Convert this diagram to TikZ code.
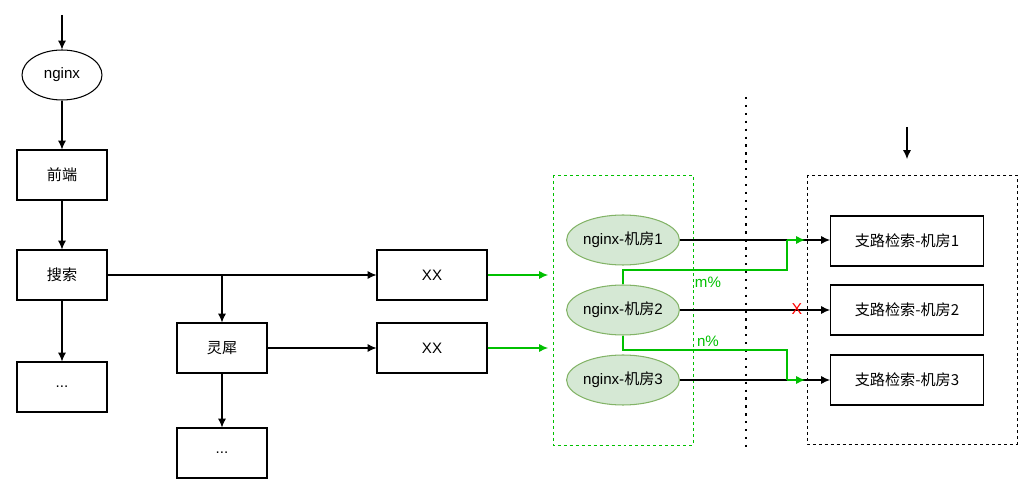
\documentclass[tikz,border=0pt]{standalone}
\usepackage{fontspec}
\setmainfont{Liberation Sans}
\newfontfamily\cjk{Noto Sans CJK SC}
\usetikzlibrary{arrows.meta,shapes.geometric}

\definecolor{okgreen}{HTML}{00C000}
\definecolor{roomfill}{HTML}{D5E8D4}
\definecolor{roomline}{HTML}{82B366}

\tikzset{
  box/.style={draw,line width=0.6pt,minimum width=1.8cm,minimum height=1cm,inner sep=0pt,font=\fontsize{8.6}{10}\selectfont},
  wbox/.style={box,minimum width=2.2cm},
  branch/.style={box,minimum width=3.06cm},
  oval/.style={draw,ellipse,line width=0.6pt,minimum width=1.6cm,minimum height=1cm,inner sep=0pt,font=\fontsize{8.6}{10}\selectfont},
  room/.style={oval,fill=roomfill,draw=roomline,minimum width=2.2cm},
  link/.style={line width=0.6pt,-{Latex[length=5pt,width=4.5pt]}},
  glink/.style={link,okgreen},
  gline/.style={line width=0.6pt,okgreen},
  frame/.style={line width=0.5pt,dash pattern=on 1.7pt off 1.7pt},
}

\begin{document}
\begin{tikzpicture}[x=0.02cm,y=-0.02cm]
\useasboundingbox (0,0) rectangle (1031,496);
% left column
\coordinate (in) at (62,15);
\node[oval] (nginx) at (62,75) {nginx};
\node[box] (fe) at (62,175) {\cjk 前端};
\node[box] (search) at (62,275) {\cjk 搜索};
\node[box] (more1) at (62,387) {...};
\node[box] (lingxi) at (222,348) {\cjk 灵犀};
\node[box] (more2) at (222,453) {...};
\node[wbox] (xx1) at (432,275) {XX};
\node[wbox] (xx2) at (432,348) {XX};
\draw[link] (in) -- (nginx);
\draw[link] (nginx) -- (fe);
\draw[link] (fe) -- (search);
\draw[link] (search) -- (more1);
\draw[link] (search) -- (xx1);
\draw[link] (search.east -| lingxi) -- (lingxi);
\draw[link] (lingxi) -- (xx2);
\draw[link] (lingxi) -- (more2);

% nginx rooms
\draw[frame,okgreen] (553,175) rectangle (693,445);
\node[room] (r1) at (623,240) {nginx-{\cjk 机房}1};
\node[room] (r2) at (623,310) {nginx-{\cjk 机房}2};
\node[room] (r3) at (623,380) {nginx-{\cjk 机房}3};
\coordinate (g1) at (548,275);
\coordinate (g2) at (548,348);
\draw[glink] (xx1) -- (g1);
\draw[glink] (xx2) -- (g2);

% divider
\draw[line width=1.3pt,dash pattern=on 1.3pt off 3.2pt] (746,97) -- (746,450);

% branch search
\draw[frame] (807,175) rectangle (1017,444);
\coordinate (in2) at (907,127);
\draw[link] (in2) -- (907,159);
\node[branch] (b1) at (907,241) {\cjk 支路检索-机房1};
\node[branch] (b2) at (907,310) {\cjk 支路检索-机房2};
\node[branch] (b3) at (907,380) {\cjk 支路检索-机房3};
\draw[link] (r1.east) -- (r1.east -| b1.west);
\draw[link] (r2) -- (b2);
\draw[link] (r3.east) -- (r3.east -| b3.west);
\node[text=red,font=\fontsize{9}{10}\selectfont] (cut) at (797,309) {X};

% failover
\coordinate (m1) at (623,270);
\coordinate (m2) at (787,270);
\coordinate (m3) at (787,240);
\coordinate (m4) at (805,240);
\draw[gline] (r2.north) -- (m1) -- (m2) -- (m3);
\draw[glink] (m3) -- (m4);
\node[text=okgreen,font=\fontsize{8.6}{10}\selectfont] (mp) at (708,282) {m\%};
\coordinate (n1) at (623,350);
\coordinate (n2) at (787,350);
\coordinate (n3) at (787,380);
\coordinate (n4) at (805,380);
\draw[gline] (r2.south) -- (n1) -- (n2) -- (n3);
\draw[glink] (n3) -- (n4);
\node[text=okgreen,font=\fontsize{8.6}{10}\selectfont] (np) at (708,341) {n\%};
\end{tikzpicture}
\end{document}
